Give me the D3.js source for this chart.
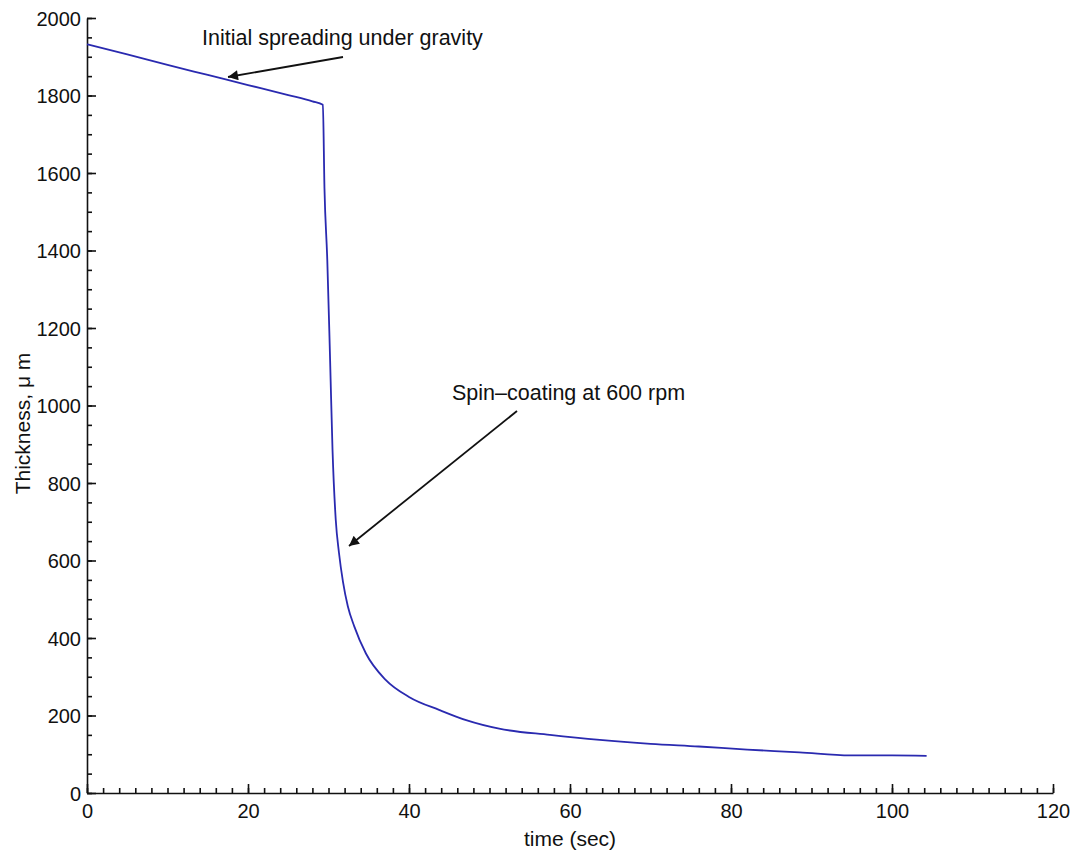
<!DOCTYPE html>
<html>
<head>
<meta charset="utf-8">
<script src="https://cdn.jsdelivr.net/npm/d3@7"></script>
<style>
  body { margin: 0; background: #fff; }
  text { font-family: "Liberation Sans", Arial, sans-serif; fill: #111; }
  .axis path, .axis line { stroke: #111; stroke-width: 1.6; }
</style>
</head>
<body>
<div id="chart"></div>
<script>
var W = 1076, H = 853,
  margin = { top: 18, right: 23, bottom: 60, left: 87 },
  width = W - margin.left - margin.right,
  height = H - margin.top - margin.bottom;

// thickness curve
var timeSec = [0, 5, 10, 15, 20, 25, 28, 29.3, 29.5, 29.85, 30.2, 30.5, 30.9, 31.3, 31.8, 32.4, 33.2, 34.65, 37.1, 40, 43.8, 47.1, 51.2, 57.5, 63.7, 70, 76, 82, 88.5, 94.8, 100, 104.3];
var thickness = [1932, 1906, 1879, 1853, 1827, 1801, 1785, 1776, 1560, 1375, 1117, 885, 705, 620, 545, 482, 430, 360, 292, 248, 214, 188, 166, 150, 137, 127, 120, 112, 105, 97, 97, 96];

var xTicks = [0, 20, 40, 60, 80, 100, 120];
var yTicks = [0, 200, 400, 600, 800, 1000, 1200, 1400, 1600, 1800, 2000];

var notes = [
  { text: "Initial spreading under gravity", tx: 202, ty: 45, x1: 343, y1: 57, x2: 228, y2: 77 },
  { text: "Spin\u2013coating at 600 rpm", tx: 452, ty: 400, x1: 517, y1: 411, x2: 349, y2: 546 }
];

var svg = d3.select("#chart").append("svg")
  .attr("width", W)
  .attr("height", H);

var g = svg.append("g")
  .attr("transform", "translate(" + margin.left + "," + margin.top + ")");

var x = d3.scaleLinear().domain([0, 120]).range([0, width]);
var y = d3.scaleLinear().domain([0, 2000]).range([height, 0]);

// minor ticks first, pointing inward
g.append("g")
  .attr("class", "axis")
  .attr("transform", "translate(0," + height + ")")
  .call(d3.axisTop(x).tickValues(d3.range(0, 121, 2)).tickSize(5).tickFormat(""))
  .select(".domain").remove();

g.append("g")
  .attr("class", "axis")
  .call(d3.axisRight(y).tickValues(d3.range(0, 2001, 50)).tickSize(5).tickFormat(""))
  .select(".domain").remove();

// major ticks
var xAxis = g.append("g")
  .attr("class", "axis")
  .attr("transform", "translate(0," + height + ")")
  .call(d3.axisTop(x).tickValues(xTicks).tickSize(9).tickSizeOuter(0));
xAxis.selectAll("text").remove();
xAxis.selectAll(".tick").append("text")
  .attr("y", 25)
  .attr("text-anchor", "middle")
  .style("font-size", "20px")
  .text(function(d){ return d; });

var yAxis = g.append("g")
  .attr("class", "axis")
  .call(d3.axisRight(y).tickValues(yTicks).tickSize(9).tickSizeOuter(0));
yAxis.selectAll("text").remove();
yAxis.selectAll(".tick").append("text")
  .attr("x", -6)
  .attr("dy", "0.35em")
  .attr("text-anchor", "end")
  .style("font-size", "20px")
  .text(function(d){ return d; });

// axis titles
svg.append("text")
  .attr("x", margin.left + x(60))
  .attr("y", 846)
  .attr("text-anchor", "middle")
  .style("font-size", "21px")
  .text("time (sec)");

svg.append("text")
  .attr("transform", "translate(30," + (margin.top + height / 2 + 18) + ") rotate(-90)")
  .attr("text-anchor", "middle")
  .style("font-size", "21px")
  .text("Thickness, \u03bc m");

// curve
var line = d3.line()
  .x(function(d, i){ return x(timeSec[i]); })
  .y(function(d){ return y(d); })
  .curve(d3.curveMonotoneX);

g.append("path")
  .datum(thickness)
  .attr("d", line)
  .attr("fill", "none")
  .attr("stroke", "#2a2ab0")
  .attr("stroke-width", 1.8);

// annotations
svg.append("defs").append("marker")
  .attr("id", "head")
  .attr("viewBox", "0 0 10 10")
  .attr("refX", 10)
  .attr("refY", 5)
  .attr("markerWidth", 16)
  .attr("markerHeight", 10)
  .attr("markerUnits", "userSpaceOnUse")
  .attr("orient", "auto")
  .append("path")
  .attr("d", "M0,0L10,5L0,10Z")
  .attr("fill", "#111");

notes.forEach(function(n){
  svg.append("text")
    .attr("x", n.tx)
    .attr("y", n.ty)
    .style("font-size", "21.5px")
    .text(n.text);
  svg.append("line")
    .attr("x1", n.x1).attr("y1", n.y1)
    .attr("x2", n.x2).attr("y2", n.y2)
    .attr("stroke", "#111")
    .attr("stroke-width", 1.8)
    .attr("marker-end", "url(#head)");
});
</script>
</body>
</html>
